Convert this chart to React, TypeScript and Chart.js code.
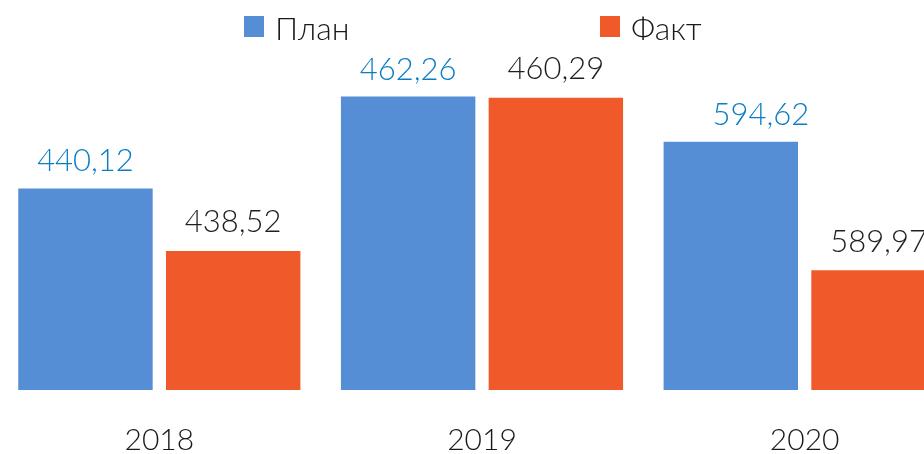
import React, { useEffect, useRef } from "react";
import { Chart, registerables } from "chart.js";

Chart.register(...registerables);

// ---- data ----
const years = ["2018", "2019", "2020"];
const planValues = [440.12, 462.26, 594.62];
const factValues = [438.52, 460.29, 589.97];
const seriesNames = ["План", "Факт"];

// ---- styles ----
const barColors = ["#558ED5", "#F05A2B"];
const valueLabelColors = ["#0B7DC3", "#1F1F1F"];
const textColor = "#1A1A1A";
const FONT = "Lato";

// each year group is drawn against its own (hidden) value axis, as in the source
const axisMin = [434.966, 0, 585.646];
const axisMax = [443.402, 519.75, 597.57];

const fmt = (v: number) => v.toFixed(2).replace(".", ",");

const valueLabelsPlugin = {
  id: "valueLabels",
  afterDatasetsDraw(chart: any) {
    const ctx = chart.ctx;
    ctx.save();
    ctx.font = `300 31px ${FONT}`;
    ctx.textAlign = "center";
    ctx.textBaseline = "alphabetic";
    chart.data.datasets.forEach((ds: any, di: number) => {
      const meta = chart.getDatasetMeta(di);
      meta.data.forEach((el: any, i: number) => {
        const v = ds.data[i];
        if (v == null) return;
        const s = ds.seriesIndex;
        ctx.fillStyle = valueLabelColors[s];
        const dx = s === 0 && i === 2 ? 30 : 0;
        const gap = s === 0 ? 17 : 18.5;
        ctx.fillText(fmt(v), el.x + dx, el.y - gap);
      });
    });
    ctx.restore();
  },
};

const legendPlugin = {
  id: "customLegend",
  afterDraw(chart: any) {
    const ctx = chart.ctx;
    ctx.save();
    ctx.font = `300 32px ${FONT}`;
    ctx.textAlign = "left";
    ctx.textBaseline = "alphabetic";
    const boxX = [264, 620];
    seriesNames.forEach((name, s) => {
      ctx.fillStyle = barColors[s];
      ctx.fillRect(boxX[s], 16, 20, 21);
      ctx.fillStyle = textColor;
      ctx.fillText(name, boxX[s] + 31, 39.5);
    });
    ctx.restore();
  },
};

export default function App() {
  const ref = useRef<HTMLCanvasElement>(null);

  useEffect(() => {
    const canvas = ref.current;
    if (!canvas) return;

    const datasets: any[] = [];
    const scales: any = {
      x: {
        grid: { display: false, drawTicks: false },
        border: { display: false },
        ticks: {
          color: textColor,
          padding: 32,
          font: { family: FONT, size: 30, weight: "300", lineHeight: 1.2 },
        },
      },
    };

    years.forEach((_, i) => {
      const axisId = `y${i}`;
      scales[axisId] = {
        display: false,
        min: axisMin[i],
        max: axisMax[i],
      };
      [planValues, factValues].forEach((vals, s) => {
        datasets.push({
          label: seriesNames[s],
          seriesIndex: s,
          data: years.map((__, j) => (j === i ? vals[i] : null)),
          backgroundColor: barColors[s],
          borderWidth: 0,
          yAxisID: axisId,
          skipNull: true,
          categoryPercentage: 0.9156,
          barPercentage: 0.91,
        });
      });
    });

    const chart = new Chart(canvas, {
      type: "bar",
      data: { labels: years, datasets },
      options: {
        animation: false,
        responsive: false,
        devicePixelRatio: 1,
        layout: { padding: { left: 18, right: 0, top: 60, bottom: 5 } },
        plugins: {
          legend: { display: false },
          tooltip: { enabled: false },
        },
        scales,
      },
      plugins: [valueLabelsPlugin, legendPlugin],
    });

    return () => chart.destroy();
  }, []);

  return (
    <div
      style={{
        position: "fixed",
        left: 0,
        top: 0,
        width: 924,
        height: 454,
        overflow: "hidden",
        background: "#fff",
      }}
    >
      <canvas
        ref={ref}
        width={986}
        height={495}
        style={{ position: "absolute", left: -20, top: 0, width: 986, height: 495 }}
      />
    </div>
  );
}
